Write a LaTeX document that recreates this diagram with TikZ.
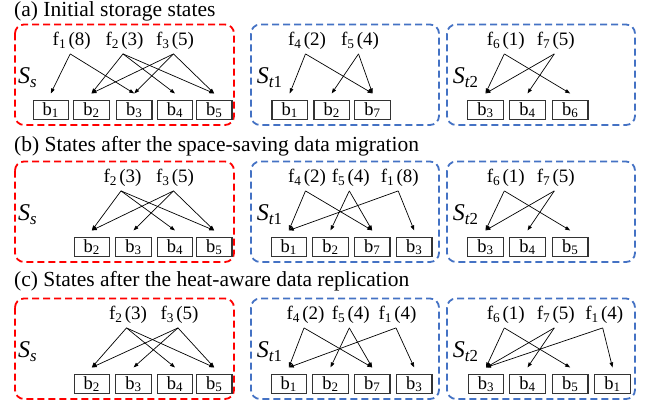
\documentclass[tikz,border=0pt]{standalone}
\usepackage{fontspec}
\setmainfont{Liberation Serif}
\usetikzlibrary{arrows.meta}
\definecolor{framered}{RGB}{255,0,0}
\definecolor{frameblue}{RGB}{68,114,196}
% draws a link from a file label to a block box
\newcommand\fileto[2]{\draw[link] ([xshift=-1.5pt]#1.south) -- ([yshift=6.5pt]#2.north);}
\begin{document}
\begin{tikzpicture}[x=1pt,y=-1pt,
  frame/.style={line width=1.8pt, dash pattern=on 7pt off 4pt, rounded corners=9pt},
  srcframe/.style={frame, draw=framered},
  tgtframe/.style={frame, draw=frameblue},
  blk/.style={draw=black!80, line width=1.1pt, minimum width=35.5pt, minimum height=19pt, inner sep=0pt, font=\fontsize{18.5}{20}\selectfont},
  file/.style={inner xsep=0pt, inner ysep=4pt, font=\fontsize{19}{22}\selectfont},
  site/.style={anchor=base west, inner sep=0pt, font=\fontsize{24}{28}\selectfont\itshape},
  caption/.style={anchor=west, inner sep=0pt, font=\fontsize{21.5}{25}\selectfont},
  link/.style={-{Triangle[length=5pt,width=3.6pt]}, line width=0.7pt},
]
\useasboundingbox (0,0) rectangle (647,404);

% captions
\node[caption] (capA) at (14,11.5) {(a) Initial storage states};
\node[caption] (capB) at (14,146) {(b) States after the space-saving data migration};
\node[caption] (capC) at (14,281.7) {(c) States after the heat-aware data replication};

% ---------- (a) initial states ----------
\begin{scope}
  \draw[srcframe] (15,24.5) rectangle (234,125);
  \draw[tgtframe] (251,24.5) rectangle (439,125);
  \draw[tgtframe] (447,24.5) rectangle (635,125);
  \node[site] (aS) at (18,83.5) {S\textsubscript{s}};
  \node[site] (aT1) at (256.7,83.5) {S\textsubscript{t\upshape 1}};
  \node[site] (aT2) at (452.7,83.5) {S\textsubscript{t\upshape 2}};
  % source site
  \node[file] (aSf1) at (71.7,41) {f\textsubscript{1}\hspace{0.12em}(8)};
  \node[file] (aSf2) at (124.5,41) {f\textsubscript{2}\hspace{0.12em}(3)};
  \node[file] (aSf3) at (175,41) {f\textsubscript{3}\hspace{0.12em}(5)};
  \node[blk] (aSb1) at (50.8,110) {b\textsubscript{1}};
  \node[blk] (aSb2) at (91.5,110) {b\textsubscript{2}};
  \node[blk] (aSb3) at (134.2,110) {b\textsubscript{3}};
  \node[blk] (aSb4) at (175,110) {b\textsubscript{4}};
  \node[blk] (aSb5) at (214.2,110) {b\textsubscript{5}};
  \fileto{aSf1}{aSb1} \fileto{aSf1}{aSb3}
  \fileto{aSf2}{aSb2} \fileto{aSf2}{aSb4} \fileto{aSf2}{aSb5}
  \fileto{aSf3}{aSb2} \fileto{aSf3}{aSb3} \fileto{aSf3}{aSb5}
  % target site 1
  \node[file] (aAf4) at (307,41) {f\textsubscript{4}\hspace{0.12em}(2)};
  \node[file] (aAf5) at (360,41) {f\textsubscript{5}\hspace{0.12em}(4)};
  \node[blk] (aAb1) at (289.7,110) {b\textsubscript{1}};
  \node[blk] (aAb2) at (331.7,110) {b\textsubscript{2}};
  \node[blk] (aAb7) at (372.5,110) {b\textsubscript{7}};
  \fileto{aAf4}{aAb1} \fileto{aAf4}{aAb7}
  \fileto{aAf5}{aAb2} \fileto{aAf5}{aAb7}
  % target site 2
  \node[file] (aBf6) at (505.8,41) {f\textsubscript{6}\hspace{0.12em}(1)};
  \node[file] (aBf7) at (555.8,41) {f\textsubscript{7}\hspace{0.12em}(5)};
  \node[blk] (aBb3) at (485.5,110) {b\textsubscript{3}};
  \node[blk] (aBb4) at (527.5,110) {b\textsubscript{4}};
  \node[blk] (aBb6) at (570.2,110) {b\textsubscript{6}};
  \fileto{aBf6}{aBb3} \fileto{aBf6}{aBb6}
  \fileto{aBf7}{aBb3} \fileto{aBf7}{aBb4}
\end{scope}

% ---------- (b) after migration ----------
\begin{scope}[shift={(0,137)}]
  \draw[srcframe] (15,24.5) rectangle (234,125);
  \draw[tgtframe] (251,24.5) rectangle (439,125);
  \draw[tgtframe] (447,24.5) rectangle (635,125);
  \node[site] (bS) at (18,83.5) {S\textsubscript{s}};
  \node[site] (bT1) at (256.7,83.5) {S\textsubscript{t\upshape 1}};
  \node[site] (bT2) at (452.7,83.5) {S\textsubscript{t\upshape 2}};
  % source site
  \node[file] (bSf2) at (122.5,41) {f\textsubscript{2}\hspace{0.12em}(3)};
  \node[file] (bSf3) at (175,41) {f\textsubscript{3}\hspace{0.12em}(5)};
  \node[blk] (bSb2) at (91.8,110) {b\textsubscript{2}};
  \node[blk] (bSb3) at (133.5,110) {b\textsubscript{3}};
  \node[blk] (bSb4) at (175,110) {b\textsubscript{4}};
  \node[blk] (bSb5) at (214.2,110) {b\textsubscript{5}};
  \fileto{bSf2}{bSb2} \fileto{bSf2}{bSb4} \fileto{bSf2}{bSb5}
  \fileto{bSf3}{bSb2} \fileto{bSf3}{bSb3} \fileto{bSf3}{bSb5}
  % target site 1
  \node[file] (bAf4) at (307,41) {f\textsubscript{4}\hspace{0.12em}(2)};
  \node[file] (bAf5) at (350.8,41) {f\textsubscript{5}\hspace{0.12em}(4)};
  \node[file] (bAf1) at (399.7,41) {f\textsubscript{1}\hspace{0.12em}(8)};
  \node[blk] (bAb1) at (288.8,110) {b\textsubscript{1}};
  \node[blk] (bAb2) at (330.5,110) {b\textsubscript{2}};
  \node[blk] (bAb7) at (372.2,110) {b\textsubscript{7}};
  \node[blk] (bAb3) at (414.2,110) {b\textsubscript{3}};
  \fileto{bAf4}{bAb1} \fileto{bAf4}{bAb7}
  \fileto{bAf5}{bAb2} \fileto{bAf5}{bAb7}
  \fileto{bAf1}{bAb1} \fileto{bAf1}{bAb3}
  % target site 2
  \node[file] (bBf6) at (505.8,41) {f\textsubscript{6}\hspace{0.12em}(1)};
  \node[file] (bBf7) at (555.8,41) {f\textsubscript{7}\hspace{0.12em}(5)};
  \node[blk] (bBb3) at (485.5,110) {b\textsubscript{3}};
  \node[blk] (bBb4) at (527.5,110) {b\textsubscript{4}};
  \node[blk] (bBb5) at (570.2,110) {b\textsubscript{5}};
  \fileto{bBf6}{bBb3} \fileto{bBf6}{bBb5}
  \fileto{bBf7}{bBb3} \fileto{bBf7}{bBb4}
\end{scope}

% ---------- (c) after replication ----------
\begin{scope}[shift={(0,274)}]
  \draw[srcframe] (15,24.5) rectangle (234,125);
  \draw[tgtframe] (251,24.5) rectangle (439,125);
  \draw[tgtframe] (447,24.5) rectangle (635,125);
  \node[site] (cS) at (18,83.5) {S\textsubscript{s}};
  \node[site] (cT1) at (256.7,83.5) {S\textsubscript{t\upshape 1}};
  \node[site] (cT2) at (452.7,83.5) {S\textsubscript{t\upshape 2}};
  % source site
  \node[file] (cSf2) at (128,41) {f\textsubscript{2}\hspace{0.12em}(3)};
  \node[file] (cSf3) at (179.5,41) {f\textsubscript{3}\hspace{0.12em}(5)};
  \node[blk] (cSb2) at (91.8,110) {b\textsubscript{2}};
  \node[blk] (cSb3) at (133.5,110) {b\textsubscript{3}};
  \node[blk] (cSb4) at (175,110) {b\textsubscript{4}};
  \node[blk] (cSb5) at (214.2,110) {b\textsubscript{5}};
  \fileto{cSf2}{cSb2} \fileto{cSf2}{cSb4} \fileto{cSf2}{cSb5}
  \fileto{cSf3}{cSb2} \fileto{cSf3}{cSb3} \fileto{cSf3}{cSb5}
  % target site 1
  \node[file] (cAf4) at (305.5,41) {f\textsubscript{4}\hspace{0.12em}(2)};
  \node[file] (cAf5) at (350.8,41) {f\textsubscript{5}\hspace{0.12em}(4)};
  \node[file] (cAf1) at (397.5,41) {f\textsubscript{1}\hspace{0.12em}(4)};
  \node[blk] (cAb1) at (288.8,110) {b\textsubscript{1}};
  \node[blk] (cAb2) at (330.5,110) {b\textsubscript{2}};
  \node[blk] (cAb7) at (372.2,110) {b\textsubscript{7}};
  \node[blk] (cAb3) at (414.2,110) {b\textsubscript{3}};
  \fileto{cAf4}{cAb1} \fileto{cAf4}{cAb7}
  \fileto{cAf5}{cAb2} \fileto{cAf5}{cAb7}
  \fileto{cAf1}{cAb1} \fileto{cAf1}{cAb3}
  % target site 2
  \node[file] (cBf6) at (505.8,41) {f\textsubscript{6}\hspace{0.12em}(1)};
  \node[file] (cBf7) at (555.8,41) {f\textsubscript{7}\hspace{0.12em}(5)};
  \node[file] (cBf1) at (604.2,41) {f\textsubscript{1}\hspace{0.12em}(4)};
  \node[blk] (cBb3) at (486,110) {b\textsubscript{3}};
  \node[blk] (cBb4) at (527.5,110) {b\textsubscript{4}};
  \node[blk] (cBb5) at (570.2,110) {b\textsubscript{5}};
  \node[blk] (cBb1) at (612.5,110) {b\textsubscript{1}};
  \fileto{cBf6}{cBb3} \fileto{cBf6}{cBb5}
  \fileto{cBf7}{cBb3} \fileto{cBf7}{cBb4}
  \fileto{cBf1}{cBb3} \fileto{cBf1}{cBb1}
\end{scope}
\end{tikzpicture}
\end{document}
